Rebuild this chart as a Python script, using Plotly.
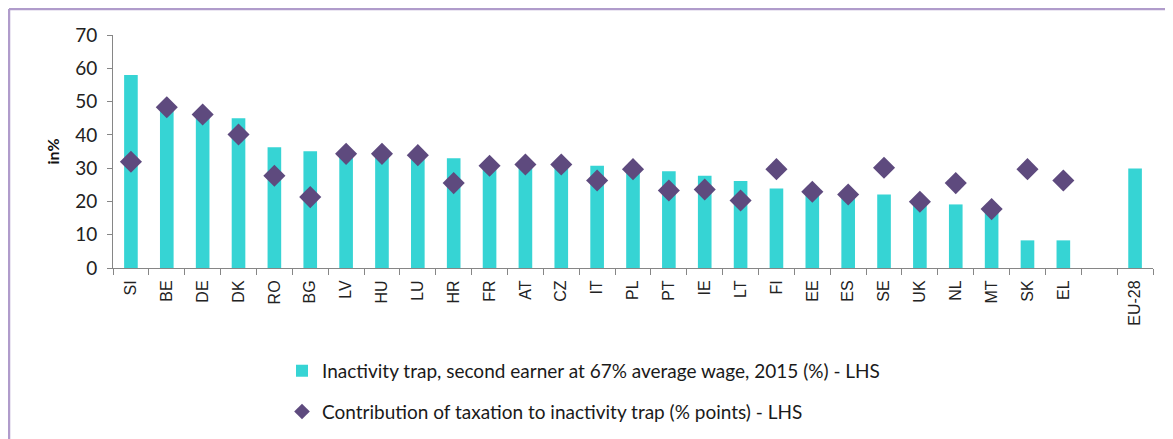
import plotly.graph_objects as go

categories = ["SI", "BE", "DE", "DK", "RO", "BG", "LV", "HU", "LU", "HR", "FR", "AT", "CZ",
              "IT", "PL", "PT", "IE", "LT", "FI", "EE", "ES", "SE", "UK", "NL", "MT", "SK",
              "EL", " ", "EU-28"]
inactivity_trap = [58.0, 48.5, 46.5, 45.0, 36.3, 35.1, 34.8, 34.8, 34.0, 33.0, 31.0, 31.2, 31.2,
                   30.7, 30.0, 29.1, 27.7, 26.1, 23.9, 22.5, 22.0, 22.1, 20.0, 19.1, 17.5, 8.3,
                   8.3, None, 29.9]
taxation_contrib = [31.9, 48.3, 46.1, 40.1, 27.7, 21.3, 34.3, 34.3, 33.9, 25.5, 30.7, 31.1, 31.1,
                    26.3, 29.7, 23.3, 23.6, 20.3, 29.7, 22.9, 22.1, 30.1, 19.9, 25.5, 17.7, 29.7,
                    26.3, None, None]

name_bar = "Inactivity trap, second earner at 67% average wage, 2015 (%) - LHS"
name_pts = "Contribution of taxation to inactivity trap (% points) - LHS"

fig = go.Figure()
fig.add_trace(go.Bar(x=categories, y=inactivity_trap, name=name_bar,
                     marker=dict(color="#36D4D4", line=dict(width=0)),
                     width=0.38, legendgroup="a"))
fig.add_trace(go.Scatter(x=categories, y=taxation_contrib, name=name_pts, mode="markers",
                         marker=dict(symbol="diamond", size=17, color="#5E4A7E"),
                         legendgroup="b"))

fig.update_layout(
    width=1173, height=439,
    margin=dict(l=105, r=28, t=27, b=179),
    plot_bgcolor="white", paper_bgcolor="white",
    showlegend=True,
    legend=dict(orientation="v", x=0.1625, y=-0.36, xanchor="left", yanchor="top",
                font=dict(family="Lato", size=19, color="#1a1a1a"),
                itemsizing="constant", traceorder="grouped", tracegroupgap=13,
                bgcolor="rgba(0,0,0,0)"),
    xaxis=dict(type="category", categoryorder="array", categoryarray=categories,
               range=[-0.5, len(categories) - 0.5], automargin=False,
               tickangle=-90, tickfont=dict(family="Liberation Sans", size=16, color="#222"),
               ticklabelstandoff=5,
               showline=True, linecolor="#868686", linewidth=1,
               ticks="outside", tickson="boundaries", ticklen=6, tickcolor="#868686",
               showgrid=False, zeroline=False),
    yaxis=dict(range=[0, 70], dtick=10, showline=True, linecolor="#868686", linewidth=1,
               automargin=False,
               ticks="outside", ticklen=5, tickcolor="#868686",
               ticklabelstandoff=6,
               tickfont=dict(family="Lato", size=19, color="#222"),
               showgrid=False, zeroline=False,
               title=dict(text="<b>in%</b>", font=dict(family="Lato", size=16, color="#111"),
                          standoff=11)),
    shapes=[
        dict(type="line", xref="paper", yref="paper", x0=-0.1, x1=1.05, y0=1.1116, y1=1.1116,
             line=dict(color="#B09CCB", width=2.5)),
        dict(type="line", xref="paper", yref="paper", x0=-0.1, x1=-0.1, y0=1.1116, y1=-0.8,
             line=dict(color="#B09CCB", width=2.5)),
    ],
)

fig.write_html("out.html")
